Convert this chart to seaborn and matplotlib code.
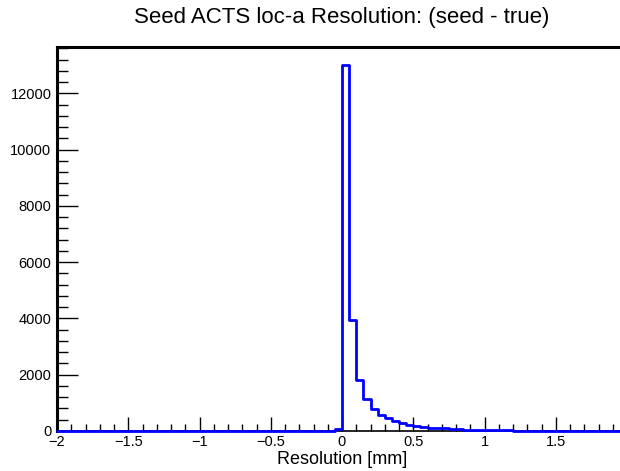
import numpy as np
import pandas as pd
import matplotlib
matplotlib.use("Agg")
import matplotlib.pyplot as plt
from matplotlib.ticker import MultipleLocator
import seaborn as sns

# bin lower edges (width 0.05 from -2 to 2)
bin_edges_left = [round(-2 + 0.05 * i, 2) for i in range(80)]
neg_counts = [0] * 37 + [5, 15, 60]
pos_counts = [13000, 3950, 1816, 1130, 775, 570, 450, 355, 275, 215,
              170, 140, 115, 95, 110, 80, 60, 50, 40, 35,
              30, 25, 20, 18, 15, 12, 10, 8, 7, 6,
              5, 5, 4, 4, 3, 3, 2, 2, 2, 2]
counts = neg_counts + pos_counts

title = "Seed ACTS loc-a Resolution: (seed - true)"
xlabel = "Resolution [mm]"
xtick_labels = ["\u22122", "\u22121.5", "\u22121", "\u22120.5", "0", "0.5", "1", "1.5", "2"]

df = pd.DataFrame({"x": [e + 0.025 for e in bin_edges_left], "w": counts})

sns.set_style("white")
plt.rcParams["font.family"] = ["Liberation Sans", "DejaVu Sans"]
plt.rcParams["text.color"] = "black"
plt.rcParams["axes.labelcolor"] = "black"
plt.rcParams["xtick.color"] = "black"
plt.rcParams["ytick.color"] = "black"

fig = plt.figure(figsize=(6.2, 4.71), dpi=100)
ax = fig.add_axes([57 / 620, 1 - 431 / 471, (627 - 57) / 620, (431 - 47) / 471])

sns.histplot(data=df, x="x", weights="w", binwidth=0.05, binrange=(-2, 2),
             element="step", fill=False, color="#0000ff", linewidth=2, ax=ax)
for ln in ax.lines + list(ax.collections) + list(ax.patches):
    ln.set_zorder(5)
    ln.set_clip_on(False)

ax.set_xlim(-2, 2)
ax.set_ylim(0, 13650)
ax.set_xticks(np.arange(-2, 2.01, 0.5))
ax.set_xticklabels(xtick_labels)
ax.xaxis.set_minor_locator(MultipleLocator(0.1))
ax.yaxis.set_major_locator(MultipleLocator(2000))
ax.yaxis.set_minor_locator(MultipleLocator(400))
ax.tick_params(axis="both", which="both", direction="in", color="black",
               labelcolor="black", bottom=True, left=True, top=False,
               right=False, width=1)
ax.tick_params(axis="x", which="major", length=10, pad=3, labelsize=10.5)
ax.tick_params(axis="x", which="minor", length=5)
ax.tick_params(axis="y", which="major", length=15, pad=4, labelsize=10.5)
ax.tick_params(axis="y", which="minor", length=8)

for s in ["left", "top"]:
    ax.spines[s].set_linewidth(2.2)
    ax.spines[s].set_color("black")
ax.spines["bottom"].set_linewidth(1.2)
ax.spines["bottom"].set_color("black")
ax.spines["right"].set_visible(False)

ax.set_xlabel(xlabel, fontsize=13, labelpad=1, color="black")
ax.set_ylabel("")
fig.text(342 / 620, 1 - 17 / 471, title, ha="center", va="center",
         fontsize=16, color="black")

fig.savefig("out.png", dpi=100)
